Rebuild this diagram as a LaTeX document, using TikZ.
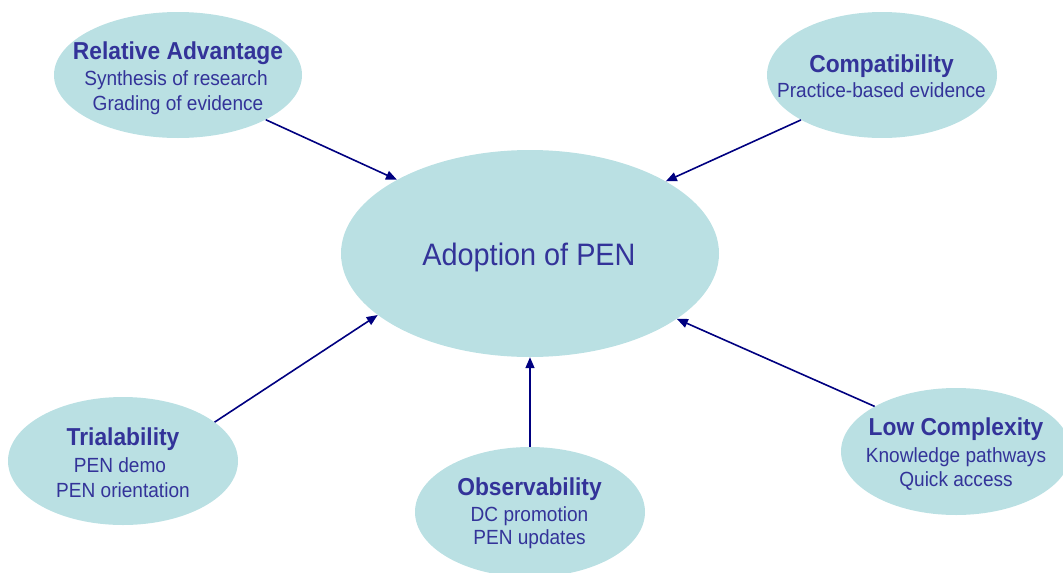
\documentclass[tikz,border=0pt]{standalone}
\usepackage{fontspec}
\setmainfont{Liberation Sans}[FakeStretch=0.93]
\usetikzlibrary{arrows.meta,shapes.geometric}

\definecolor{blobfill}{RGB}{186,224,227}
\definecolor{inktext}{RGB}{51,51,153}
\definecolor{arrowink}{RGB}{0,0,128}

\tikzset{
  blob/.style={ellipse, fill=blobfill, draw=none, inner sep=0pt},
  headline/.style={anchor=base, inner sep=0pt, text=inktext,
    font=\fontsize{24.5}{25}\selectfont\bfseries},
  bodyline/.style={anchor=base, inner sep=0pt, text=inktext,
    font=\fontsize{20.5}{25}\selectfont},
  corelabel/.style={anchor=base, inner sep=0pt, text=inktext,
    font=\fontsize{31}{36}\selectfont},
  influence/.style={draw=arrowink, line width=1.6pt,
    -{Triangle[length=11pt,width=9pt]}}
}

\begin{document}
\begin{tikzpicture}[x=1pt, y=-1pt]
  \useasboundingbox (0,0) rectangle (1063,573);

  % central idea
  \node[blob, minimum width=378pt, minimum height=207pt] (adopt) at (530,253.5) {};
  \node[corelabel] (adoptlbl) at (529,265) {Adoption of PEN};

  % the five attributes
  \node[blob, minimum width=248pt, minimum height=126pt] (reladv) at (178,75) {};
  \node[headline] (relaT) at (178,59.3) {Relative Advantage};
  \node[bodyline] (relaA) at (176,85.3) {Synthesis of research};
  \node[bodyline] (relaB) at (178,110) {Grading of evidence};

  \node[blob, minimum width=230pt, minimum height=126pt] (compat) at (882,75) {};
  \node[headline] (compT) at (881.5,72.7) {Compatibility};
  \node[bodyline] (compA) at (881.5,97.7) {Practice-based evidence};

  \node[blob, minimum width=230pt, minimum height=128pt] (trial) at (123,461) {};
  \node[headline] (trialT) at (123,445) {Trialability};
  \node[bodyline] (trialA) at (120,472) {PEN demo};
  \node[bodyline] (trialB) at (123,497) {PEN orientation};

  \node[blob, minimum width=230pt, minimum height=130pt] (observ) at (530,512) {};
  \node[headline] (obsT) at (529.5,495) {Observability};
  \node[bodyline] (obsA) at (529.5,521) {DC promotion};
  \node[bodyline] (obsB) at (529.5,544) {PEN updates};

  \node[blob, minimum width=230pt, minimum height=127pt] (lowcx) at (956,451.5) {};
  \node[headline] (lowT) at (956,435.7) {Low Complexity};
  \node[bodyline] (lowA) at (956,462) {Knowledge pathways};
  \node[bodyline] (lowB) at (956,486.7) {Quick access};

  % influences on adoption
  \draw[influence] (reladv.-27.3) -- (adopt.151.3);
  \draw[influence] (compat.209.3) -- (adopt.28.6);
  \draw[influence] (trial.23.4) -- (adopt.202.9);
  \draw[influence] (observ.90) -- (adopt.270);
  \draw[influence] (lowcx.151) -- (adopt.336);
\end{tikzpicture}
\end{document}
